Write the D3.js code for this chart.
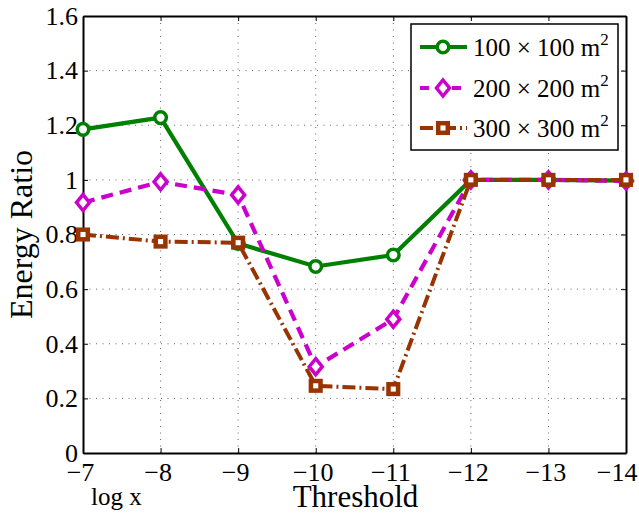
<!DOCTYPE html>
<html>
<head>
<meta charset="utf-8">
<script src="https://cdn.jsdelivr.net/npm/d3@7"></script>
<style>
  body { margin: 0; background: #fff; }
  svg text { font-family: "Liberation Serif", "Times New Roman", serif; }
</style>
</head>
<body>
<div id="chart"></div>
<script>
var thresholds = [-7, -8, -9, -10, -11, -12, -13, -14];
var yTicks = [0, 0.2, 0.4, 0.6, 0.8, 1, 1.2, 1.4, 1.6];

var area100 = [1.185, 1.228, 0.767, 0.683, 0.725, 1.0, 1.0, 0.997];
var area200 = [0.917, 0.993, 0.945, 0.316, 0.49, 1.0, 1.0, 0.996];
var area300 = [0.8, 0.774, 0.77, 0.246, 0.234, 1.0, 1.0, 1.0];

var seriesNames = ["100", "200", "300"];

var width = 639,
    height = 514,
    margin = {top: 16, right: 13, bottom: 61, left: 83};

var x = d3.scaleLinear()
    .domain([-7, -14])
    .range([margin.left, width - margin.right]);

var y = d3.scaleLinear()
    .domain([0, 1.6])
    .range([height - margin.bottom, margin.top]);

var fmtX = function(d) { return String(d).replace("-", "\u2212"); };

var svg = d3.select("#chart").append("svg")
    .attr("width", width)
    .attr("height", height);

// grid
svg.append("g")
    .selectAll("line")
    .data(yTicks.slice(1, -1))
  .enter().append("line")
    .attr("x1", x(-7)).attr("x2", x(-14))
    .attr("y1", function(d) { return y(d); })
    .attr("y2", function(d) { return y(d); })
    .attr("stroke", "#666").attr("stroke-width", 1)
    .attr("stroke-dasharray", "1,5.5");

svg.append("g")
    .selectAll("line")
    .data(thresholds.slice(1, -1))
  .enter().append("line")
    .attr("y1", y(0)).attr("y2", y(1.6))
    .attr("x1", function(d) { return x(d); })
    .attr("x2", function(d) { return x(d); })
    .attr("stroke", "#666").attr("stroke-width", 1)
    .attr("stroke-dasharray", "1,5.5");

// axes
var xBottom = d3.axisBottom(x).tickValues(thresholds).tickFormat(fmtX)
    .tickSizeInner(-5).tickSizeOuter(0).tickPadding(10);
var xTop = d3.axisTop(x).tickValues(thresholds).tickFormat("")
    .tickSizeInner(-5).tickSizeOuter(0);
var yLeft = d3.axisLeft(y).tickValues(yTicks).tickFormat(d3.format("~g"))
    .tickSizeInner(-5).tickSizeOuter(0).tickPadding(5);
var yRight = d3.axisRight(y).tickValues(yTicks).tickFormat("")
    .tickSizeInner(-5).tickSizeOuter(0);

function styleAxis(g) {
  g.attr("font-family", null).attr("font-size", null);
  g.select(".domain").attr("stroke", "#000").attr("stroke-width", 2);
  g.selectAll(".tick line").attr("stroke", "#000").attr("stroke-width", 1);
  g.selectAll(".tick text")
    .style("font-size", "26px")
    .style("font-family", "'Liberation Serif', serif")
    .attr("fill", "#000");
}

var gx = svg.append("g").attr("transform", "translate(0," + y(0) + ")").call(xBottom).call(styleAxis);
// matlab nudges the labels a bit left, the last one stays inside the figure
gx.selectAll(".tick text")
    .attr("dx", -3)
    .filter(function(d) { return d == -14; })
    .attr("text-anchor", "end")
    .attr("dx", width - 2 - x(-14));
svg.append("g").attr("transform", "translate(0," + y(1.6) + ")").call(xTop).call(styleAxis);
svg.append("g").attr("transform", "translate(" + x(-7) + ",0)").call(yLeft).call(styleAxis);
svg.append("g").attr("transform", "translate(" + x(-14) + ",0)").call(yRight).call(styleAxis);

// labels
svg.append("text")
    .attr("x", (x(-7) + x(-14)) / 2 + 1)
    .attr("y", 507)
    .attr("text-anchor", "middle")
    .attr("font-size", 31)
    .text("Threshold");

svg.append("text")
    .attr("transform", "translate(32," + ((y(0) + y(1.6)) / 2) + ") rotate(-90)")
    .attr("text-anchor", "middle")
    .attr("font-size", 32)
    .text("Energy Ratio");

svg.append("text")
    .attr("x", 91)
    .attr("y", 505)
    .attr("font-size", 25)
    .text("log x");

// series
var series = [
  {name: seriesNames[0], values: area100, color: "#008000", dash: null, marker: "circle"},
  {name: seriesNames[1], values: area200, color: "#cc00cc", dash: "12,7", marker: "diamond"},
  {name: seriesNames[2], values: area300, color: "#993300", dash: "13,4,2,4", marker: "square"}
];

var line = d3.line()
    .x(function(d) { return x(d[0]); })
    .y(function(d) { return y(d[1]); });

function drawMarker(g, type, color) {
  if (type == "circle") {
    g.append("circle").attr("r", 5.8)
      .attr("fill", "#fff").attr("stroke", color).attr("stroke-width", 3.5);
  } else if (type == "diamond") {
    g.append("path").attr("d", "M0,-8L6.5,0L0,8L-6.5,0Z")
      .attr("fill", "#fff").attr("stroke", color).attr("stroke-width", 3.5);
  } else {
    g.append("rect").attr("x", -4.8).attr("y", -4.8).attr("width", 9.6).attr("height", 9.6)
      .attr("fill", "#fff").attr("stroke", color).attr("stroke-width", 4.5);
  }
}

series.forEach(function(s) {
  var pts = thresholds.map(function(t, i) { return [t, s.values[i]]; });
  svg.append("path")
      .datum(pts)
      .attr("d", line)
      .attr("fill", "none")
      .attr("stroke", s.color)
      .attr("stroke-width", s.marker == "square" ? 4 : 4.2)
      .attr("stroke-dasharray", s.dash);
  svg.append("g")
      .selectAll("g")
      .data(pts)
    .enter().append("g")
      .attr("transform", function(d) { return "translate(" + x(d[0]) + "," + y(d[1]) + ")"; })
      .each(function() { drawMarker(d3.select(this), s.marker, s.color); });
});

// legend
var legend = svg.append("g").attr("transform", "translate(411,24)");
legend.append("rect")
    .attr("width", 207).attr("height", 126)
    .attr("fill", "#fff").attr("stroke", "#000").attr("stroke-width", 1.5);

var rows = [23, 64, 104];
series.forEach(function(s, i) {
  var row = legend.append("g").attr("transform", "translate(0," + rows[i] + ")");
  row.append("line")
      .attr("x1", 9).attr("x2", 56)
      .attr("stroke", s.color).attr("stroke-width", 4.2)
      .attr("stroke-dasharray", s.marker == "diamond" ? "9,7" : (s.marker == "square" ? "13,4,2,4" : null));
  var m = row.append("g").attr("transform", "translate(32,0)");
  drawMarker(m, s.marker, s.color);
  var t = row.append("text")
      .attr("x", 62).attr("y", 9)
      .attr("font-size", 25);
  t.append("tspan").text(s.name + " \u00d7 " + s.name + " m");
  t.append("tspan").attr("font-size", 17).attr("dy", -11).text("2");
});
</script>
</body>
</html>
